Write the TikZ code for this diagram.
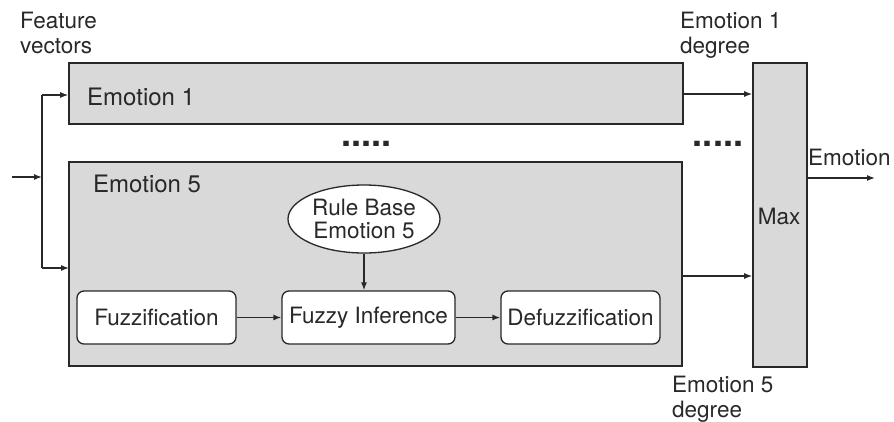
\documentclass[tikz,border=0pt]{standalone}
\usepackage{fontspec}
\setmainfont{TeX Gyre Heros}
\usetikzlibrary{arrows.meta,shapes.geometric}
\definecolor{boxgray}{RGB}{217,217,217}
\definecolor{ink}{RGB}{40,40,40}
\begin{document}
\begin{tikzpicture}[x=1pt,y=-1pt,
  every node/.style={text=ink, font=\fontsize{22.5}{25}\selectfont},
  panel/.style={draw=ink, line width=1.6pt, fill=boxgray, rectangle, inner sep=0pt},
  stage/.style={draw=ink, line width=1.3pt, fill=white, rounded corners=7pt, inner sep=0pt,
    minimum height=53pt},
  rulebase/.style={draw=ink, line width=1.3pt, fill=white, ellipse, inner sep=0pt, align=center,
    minimum width=152pt, minimum height=68pt, font=\fontsize{22.5}{23}\selectfont},
  title/.style={font=\fontsize{24}{26}\selectfont, anchor=west, inner sep=0pt},
  note/.style={align=left, anchor=north west, inner sep=0pt},
  arr/.style={draw=ink, line width=1.3pt, -{Latex[length=8pt,width=6pt]}},
  wire/.style={draw=ink, line width=1.3pt},
  dots/.style={font=\fontsize{36}{36}\selectfont\bfseries, inner sep=0pt}]

\useasboundingbox (0,0) rectangle (894,421);

% main blocks
\node[panel, minimum width=614pt, minimum height=61pt] (e1) at (376,93.5) {};
\node[panel, minimum width=613pt, minimum height=204pt] (e5) at (375.5,264) {};
\node[panel, minimum width=54pt, minimum height=304pt] (max) at (780,215) {};

\node[title] (e1t) at (87,97) {Emotion 1};
\node[title] (e5t) at (93,184) {Emotion 5};
\node[inner sep=0pt] (maxt) at (779,216) {Max};

% fuzzy system stages
\node[stage, minimum width=159pt] (fuzz) at (156.5,317.5) {Fuzzification};
\node[stage, minimum width=173pt] (inf) at (368.5,317.5) {Fuzzy Inference};
\node[stage, minimum width=159pt] (defuzz) at (580.5,317.5) {Defuzzification};
\node[rulebase] (rule) at (364,219) {Rule Base\\Emotion 5};

% labels
\node[note] (feat) at (20,12) {Feature\\vectors};
\node[note] (deg1) at (680,12) {Emotion 1\\degree};
\node[note] (deg5) at (672,376) {Emotion 5\\degree};
\node[anchor=west, inner sep=0pt] (outl) at (808,157) {Emotion};

\node[dots] (dotsA) at (366.5,144) {.....};
\node[dots] (dotsB) at (718,144) {.....};

% input distribution
\coordinate (src) at (12,177);
\coordinate (split) at (42,177);
\coordinate (e5in) at (69,268);
\draw[arr] (src) -- (split);
\draw[wire] (42,95) -- (42,268);
\draw[arr] (42,95) -- (e1.west |- 0,95);
\draw[arr] (42,268) -- (e5in);

% internal flow
\draw[arr] (fuzz) -- (inf);
\draw[arr] (inf) -- (defuzz);
\draw[arr] (rule) -- (rule |- inf.north);

% degrees to max
\coordinate (e5out) at (682,276);
\draw[arr] (e1.east |- 0,94) -- (max.west |- 0,94);
\draw[arr] (e5out) -- (max.west |- e5out);
\coordinate (sink) at (875,178);
\draw[arr] (max.east |- sink) -- (sink);
\end{tikzpicture}
\end{document}
